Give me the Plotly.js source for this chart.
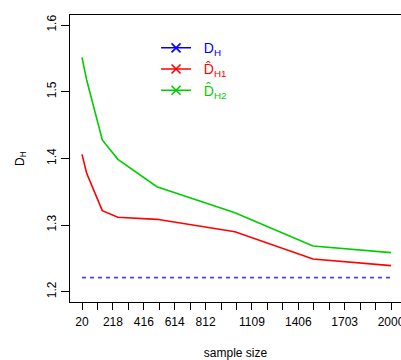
<!DOCTYPE html>
<html>
<head>
<meta charset="utf-8">
<script src="https://cdn.plot.ly/plotly-3.0.1.min.js"></script>
<style>html,body{margin:0;padding:0;overflow:hidden;background:#fff;}</style>
</head>
<body>
<div id="chart" style="width:401px;height:360px;"></div>
<script>
// Data
const sampleSize = [20, 50, 150, 250, 500, 1000, 1500, 2000];
const dH = [1.221, 1.221, 1.221, 1.221, 1.221, 1.221, 1.221, 1.221];
const dH1 = [1.406, 1.3775, 1.3215, 1.3115, 1.3085, 1.290, 1.249, 1.239];
const dH2 = [1.5515, 1.5175, 1.4275, 1.3985, 1.3575, 1.3185, 1.2685, 1.2585];
const xTickVals = [20,119,218,317,416,515,614,713,812,911,1010,1109,1208,1307,1406,1505,1604,1703,1802,1901,2000];
const xTickText = ['20','','218','','416','','614','','812','','','1109','','','1406','','','1703','','','2000'];
const yTickVals = [1.2, 1.3, 1.4, 1.5, 1.6];
const yTickText = ['1.2', '1.3', '1.4', '1.5', '1.6'];

const BLUE = '#0000ff', RED = '#ff0000', GREEN = '#00cd00';
const FONT = 'Liberation Sans, Arial, sans-serif';
const PAD = '\u00a0\u00a0';

const traces = [
  {x: sampleSize, y: dH, mode: 'lines', line: {color: '#4646ff', width: 1.6, dash: '4px,4px'}, showlegend: false},
  {x: sampleSize, y: dH1, mode: 'lines', line: {color: RED, width: 1.6}, showlegend: false},
  {x: sampleSize, y: dH2, mode: 'lines', line: {color: GREEN, width: 1.6}, showlegend: false},
  {x: [null], y: [null], mode: 'lines+markers', name: PAD + '<span style="color:' + BLUE + '">D<sub>H</sub></span>',
   line: {color: BLUE, width: 1.6}, marker: {symbol: 'x-thin', size: 9, line: {color: BLUE, width: 1.6}}},
  {x: [null], y: [null], mode: 'lines+markers', name: PAD + '<span style="color:' + RED + '">D\u0302<sub>H1</sub></span>',
   line: {color: RED, width: 1.6}, marker: {symbol: 'x-thin', size: 9, line: {color: RED, width: 1.6}}},
  {x: [null], y: [null], mode: 'lines+markers', name: PAD + '<span style="color:' + GREEN + '">D\u0302<sub>H2</sub></span>',
   line: {color: GREEN, width: 1.6}, marker: {symbol: 'x-thin', size: 9, line: {color: GREEN, width: 1.6}}}
];

const layout = {
  width: 401, height: 360,
  margin: {l: 70, r: 0, t: 15, b: 58},
  paper_bgcolor: '#fff', plot_bgcolor: '#fff',
  font: {family: FONT, size: 12, color: '#000'},
  showlegend: true,
  legend: {x: 0.26, y: 0.94, xanchor: 'left', yanchor: 'top', bgcolor: 'rgba(0,0,0,0)',
           font: {size: 14, family: FONT}, itemwidth: 30, tracegroupgap: 0},
  xaxis: {
    range: [-56.9, 2064], tickmode: 'array', tickvals: xTickVals, ticktext: xTickText,
    ticks: 'outside', ticklen: 7, tickwidth: 1, tickcolor: '#000', ticklabeloverflow: 'allow',
    ticklabelstandoff: 2,
    showgrid: false, zeroline: false, showline: true, linecolor: '#000', linewidth: 1, mirror: true,
    tickfont: {size: 12}, title: {text: 'sample size', font: {size: 12}, standoff: 22}
  },
  yaxis: {
    range: [1.1845, 1.615], tickmode: 'array', tickvals: yTickVals, ticktext: yTickText,
    ticks: 'outside', ticklen: 8, tickwidth: 1, tickcolor: '#000', tickangle: -90,
    showgrid: false, zeroline: false, showline: true, linecolor: '#000', linewidth: 1, mirror: true,
    tickfont: {size: 12}, title: {text: 'D<sub>H</sub>', font: {size: 12}, standoff: 18}
  }
};

Plotly.newPlot('chart', traces, layout, {displayModeBar: false, staticPlot: true});
</script>
</body>
</html>
